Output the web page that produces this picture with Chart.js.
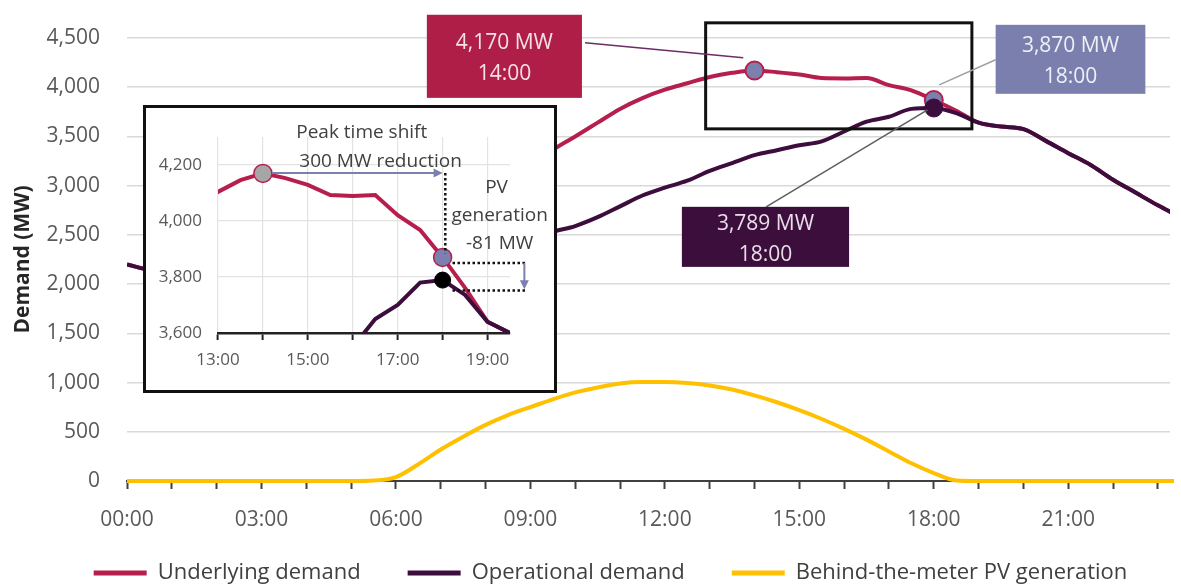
<!DOCTYPE html>
<html>
<head>
<meta charset="utf-8">
<script src="https://cdn.jsdelivr.net/npm/chart.js@4.4.1/dist/chart.umd.min.js"></script>
<style>
  html, body { margin: 0; padding: 0; background: #fff; }
  #wrap { position: relative; width: 1181px; height: 584px; overflow: hidden; }
  canvas { display: block; }
  #inset { position: absolute; left: 143px; top: 105px; width: 414px; height: 288px; box-sizing: border-box; border: 3px solid #111; background: #fff; }
</style>
</head>
<body>
<div id="wrap">
  <canvas id="main" width="1181" height="584"></canvas>
  <div id="inset"><canvas id="zoom" width="408" height="282"></canvas></div>
</div>
<script>
/* Demand chart */

const times = [
  '00:00', '00:30', '01:00', '01:30', '02:00', '02:30', '03:00', '03:30',
  '04:00', '04:30', '05:00', '05:30', '06:00', '06:30', '07:00', '07:30',
  '08:00', '08:30', '09:00', '09:30', '10:00', '10:30', '11:00', '11:30',
  '12:00', '12:30', '13:00', '13:30', '14:00', '14:30', '15:00', '15:30',
  '16:00', '16:30', '17:00', '17:30', '18:00', '18:30', '19:00', '19:30',
  '20:00', '20:30', '21:00', '21:30', '22:00', '22:30', '23:00', '23:30'
]

const underlying = [
  2200, 2140, 2070, 2010, 1960, 1920, 1890, 1880,
  1880, 1900, 1950, 2035, 2170, 2390, 2600, 2760,
  2910, 3050, 3190, 3364, 3500, 3640, 3780, 3890,
  3975, 4040, 4104, 4146, 4170, 4153, 4129, 4093,
  4089, 4093, 4021, 3968, 3870, 3761, 3640, 3600,
  3575, 3455, 3330, 3210, 3060, 2930, 2800, 2680
]

const operational = [
  2200, 2140, 2070, 2010, 1960, 1920, 1890, 1880,
  1880, 1900, 1950, 2030, 2130, 2220, 2280, 2310,
  2340, 2380, 2440, 2530, 2590, 2680, 2790, 2900,
  2980, 3050, 3150, 3230, 3310, 3360, 3410, 3450,
  3550, 3650, 3700, 3780, 3789, 3736, 3640, 3600,
  3575, 3455, 3330, 3210, 3060, 2930, 2800, 2680
]

const pvGeneration = [
  0, 0, 0, 0, 0, 0, 0, 0,
  0, 0, 0, 5, 40, 170, 320, 450,
  570, 670, 750, 830, 900, 950, 990, 1005,
  1005, 995, 970, 930, 870, 800, 720, 630,
  530, 420, 300, 180, 81, 5, 0, 0,
  0, 0, 0, 0, 0, 0, 0, 0
]

const peakTimes = ['14:00', '18:00']
const peakUnderlying = [4170, 3870]
const peakOperationalTime = ['18:00']
const peakOperational = [3789]

const Text = {
  Y_TITLE: 'Demand (MW)',
  UNDERLYING: 'Underlying demand',
  OPERATIONAL: 'Operational demand',
  PV: 'Behind-the-meter PV generation'
}

const Color = {
  RED: '#B61F4D',
  PURPLE: '#3C0D3D',
  GOLD: '#FFC000',
  SLATE: '#7B80AE',
  GRID: '#D9D9D9',
  AXIS: '#404040',
  TICK: '#595959'
}

const hours = t => { const [h, m] = t.split(':').map(Number); return h + m / 60 }
const points = (ts, vals) => ts.map((t, i) => ({ x: hours(t), y: vals[i] }))
const fmt = v => v.toLocaleString('en-US')

Chart.defaults.font.family = "'Open Sans', sans-serif"
Chart.defaults.color = Color.TICK

// callouts, anchored in hours / MW
const callouts = [
  { lines: ['4,170 MW', '14:00'], box: [6.69, 4736, 10.15, 3892], fill: '#AF1E46', text: '#F6E1E6',
    leader: [[10.22, 4451], [13.75, 4299]], leaderColor: '#6A2D66' },
  { lines: ['3,870 MW', '18:00'], box: [19.38, 4634, 22.72, 3933], fill: '#7A7FAD', text: '#EEF0F7',
    leader: [[19.38, 4278], [18.12, 4024]], leaderColor: '#A0A0A0' },
  { lines: ['3,789 MW', '18:00'], box: [12.38, 2785, 16.11, 2175], fill: '#3B0E3C', text: '#EADDEA',
    leader: [[14.26, 2785], [17.86, 3770]], leaderColor: '#606060' }
]
const zoomWindow = [12.91, 4654, 18.85, 3577]

const mainNotes = {
  id: 'mainNotes',
  afterLayout (chart) {
    // legend row sits a bit right of centre and low in the picture
    chart.legend.left += 20
    chart.legend.right += 20
    chart.legend.top = 515
    chart.legend.bottom = 584
  },
  afterDatasetsDraw (chart) {
    const { ctx, scales: { x, y } } = chart
    const px = (h, v) => [x.getPixelForValue(h), y.getPixelForValue(v)]
    ctx.save()

    const [a, b] = [px(zoomWindow[0], zoomWindow[1]), px(zoomWindow[2], zoomWindow[3])]
    ctx.strokeStyle = '#111'
    ctx.lineWidth = 3
    ctx.strokeRect(a[0], a[1], b[0] - a[0], b[1] - a[1])

    callouts.forEach(c => {
      const [p0, p1] = c.leader.map(p => px(p[0], p[1]))
      ctx.strokeStyle = c.leaderColor
      ctx.lineWidth = 1.6
      ctx.beginPath()
      ctx.moveTo(p0[0], p0[1])
      ctx.lineTo(p1[0], p1[1])
      ctx.stroke()

      const [t, u] = [px(c.box[0], c.box[1]), px(c.box[2], c.box[3])]
      ctx.fillStyle = c.fill
      ctx.fillRect(t[0], t[1], u[0] - t[0], u[1] - t[1])
      ctx.fillStyle = c.text
      ctx.font = "21px 'Open Sans'"
      ctx.textAlign = 'center'
      ctx.textBaseline = 'middle'
      const cx = (t[0] + u[0]) / 2
      const cy = (t[1] + u[1]) / 2
      ctx.fillText(c.lines[0], cx, cy - 13)
      ctx.fillText(c.lines[1], cx, cy + 18)
    })
    ctx.restore()
  }
}

new Chart(document.getElementById('main'), {
  type: 'line',
  data: {
    datasets: [
      {
        label: Text.UNDERLYING,
        data: points(times, underlying),
        borderColor: Color.RED,
        backgroundColor: Color.RED,
        borderWidth: 4,
        pointRadius: 0,
        cubicInterpolationMode: 'monotone',
        order: 3
      },
      {
        label: Text.OPERATIONAL,
        data: points(times, operational),
        borderColor: Color.PURPLE,
        backgroundColor: Color.PURPLE,
        borderWidth: 4,
        pointRadius: 0,
        cubicInterpolationMode: 'monotone',
        order: 2
      },
      {
        label: Text.PV,
        data: points(times, pvGeneration),
        borderColor: Color.GOLD,
        backgroundColor: Color.GOLD,
        borderWidth: 4,
        pointRadius: 0,
        cubicInterpolationMode: 'monotone',
        clip: 4,
        order: 4
      },
      {
        label: 'peak underlying',
        data: points(peakTimes, peakUnderlying),
        showLine: false,
        pointRadius: 9,
        pointBorderWidth: 2,
        pointBackgroundColor: Color.SLATE,
        pointBorderColor: Color.RED,
        order: 1
      },
      {
        label: 'peak operational',
        data: points(peakOperationalTime, peakOperational),
        showLine: false,
        pointRadius: 9,
        pointBorderWidth: 1,
        pointBackgroundColor: Color.PURPLE,
        pointBorderColor: Color.PURPLE,
        order: 0
      }
    ]
  },
  options: {
    responsive: false,
    animation: false,
    layout: { padding: { top: 38, right: 0, bottom: 0, left: 0 } },
    scales: {
      x: {
        type: 'linear',
        min: 0,
        max: 23.27,
        afterBuildTicks: s => { s.ticks = s.ticks.filter(t => Number.isInteger(t.value)) },
        afterFit: s => { s.height = 73; s.paddingLeft = 0; s.paddingRight = 0 },
        ticks: {
          stepSize: 1,
          autoSkip: false,
          includeBounds: false,
          maxRotation: 0,
          padding: 18,
          font: { size: 21 },
          color: Color.TICK,
          callback: v => v % 3 === 0 ? String(v).padStart(2, '0') + ':00' : ''
        },
        grid: { drawOnChartArea: false, drawTicks: true, tickLength: 8, tickColor: Color.AXIS, tickWidth: 2 },
        border: { display: true, color: Color.AXIS, width: 2 }
      },
      y: {
        min: 0,
        max: 4500,
        afterFit: s => { s.width = 127; s.paddingTop = 0; s.paddingBottom = 0 },
        ticks: { stepSize: 500, padding: 27, font: { size: 21 }, color: Color.TICK, callback: v => fmt(v) },
        grid: { color: Color.GRID, lineWidth: 1.5, drawTicks: false },
        border: { display: false },
        title: {
          display: true,
          text: Text.Y_TITLE,
          color: '#262626',
          font: { size: 21, weight: 'bold' },
          padding: { top: 10, bottom: 0 }
        }
      }
    },
    plugins: {
      tooltip: { enabled: false },
      legend: {
        position: 'bottom',
        maxHeight: 30,
        labels: {
          boxWidth: 53,
          boxHeight: 5,
          padding: 47,
          color: '#404040',
          font: { size: 22 },
          filter: item => item.datasetIndex < 3,
          sort: (a, b) => a.datasetIndex - b.datasetIndex,
          generateLabels: chart => Chart.defaults.plugins.legend.labels.generateLabels(chart)
            .map(l => ({ ...l, lineWidth: 0 }))
        }
      }
    }
  },
  plugins: [mainNotes]
})

/* Inset: 13:00 to 19:30 */

const insetNotes = [
  { text: 'Peak time shift', x: 16.2, y: 4314 },
  { text: '300 MW reduction', x: 16.62, y: 4211 },
  { text: 'PV', x: 19.2, y: 4121 },
  { text: 'generation', x: 19.27, y: 4021 },
  { text: '-81 MW', x: 19.27, y: 3921 }
]

const arrow = (ctx, x0, y0, x1, y1, color) => {
  const ang = Math.atan2(y1 - y0, x1 - x0)
  ctx.strokeStyle = color
  ctx.fillStyle = color
  ctx.lineWidth = 2
  ctx.beginPath()
  ctx.moveTo(x0, y0)
  ctx.lineTo(x1 - 7 * Math.cos(ang), y1 - 7 * Math.sin(ang))
  ctx.stroke()
  ctx.beginPath()
  ctx.moveTo(x1, y1)
  ctx.lineTo(x1 - 9 * Math.cos(ang) + 4.5 * Math.sin(ang), y1 - 9 * Math.sin(ang) - 4.5 * Math.cos(ang))
  ctx.lineTo(x1 - 9 * Math.cos(ang) - 4.5 * Math.sin(ang), y1 - 9 * Math.sin(ang) + 4.5 * Math.cos(ang))
  ctx.closePath()
  ctx.fill()
}

const zoomNotes = {
  id: 'zoomNotes',
  afterDatasetsDraw (chart) {
    const { ctx, scales: { x, y } } = chart
    const X = v => x.getPixelForValue(v)
    const Y = v => y.getPixelForValue(v)
    ctx.save()

    arrow(ctx, X(14.2), Y(4171), X(18), Y(4171), Color.SLATE)

    ctx.strokeStyle = '#111'
    ctx.lineWidth = 2.5
    ctx.setLineDash([2.5, 2.5])
    ctx.beginPath()
    ctx.moveTo(X(18.06), Y(4171))
    ctx.lineTo(X(18.06), Y(3885))
    ctx.moveTo(X(18.22), Y(3850))
    ctx.lineTo(X(19.87), Y(3850))
    ctx.moveTo(X(18.22), Y(3752))
    ctx.lineTo(X(19.87), Y(3752))
    ctx.stroke()
    ctx.setLineDash([])

    arrow(ctx, X(19.82), Y(3850), X(19.82), Y(3756), Color.SLATE)

    ctx.fillStyle = '#404040'
    ctx.font = "19px 'Open Sans'"
    ctx.textAlign = 'center'
    ctx.textBaseline = 'middle'
    insetNotes.forEach(n => ctx.fillText(n.text, X(n.x), Y(n.y)))
    ctx.restore()
  }
}

new Chart(document.getElementById('zoom'), {
  type: 'line',
  data: {
    datasets: [
      {
        label: 'peak operational',
        data: points(peakOperationalTime, peakOperational),
        showLine: false,
        pointRadius: 8,
        pointBackgroundColor: '#000',
        pointBorderColor: '#000',
        clip: 0
      },
      {
        label: 'peak underlying',
        data: points(peakTimes, peakUnderlying),
        showLine: false,
        pointRadius: 9,
        pointBorderWidth: 1.5,
        pointBackgroundColor: [ '#A6A6A6', Color.SLATE ],
        pointBorderColor: Color.RED,
        clip: 0
      },
      {
        label: Text.OPERATIONAL,
        data: points(times, operational),
        borderColor: Color.PURPLE,
        borderWidth: 4,
        pointRadius: 0,
        clip: 0
      },
      {
        label: Text.UNDERLYING,
        data: points(times, underlying),
        borderColor: Color.RED,
        borderWidth: 4,
        pointRadius: 0,
        clip: 0
      }
    ]
  },
  options: {
    responsive: false,
    animation: false,
    layout: { padding: { top: 29, right: 44, bottom: 0, left: 0 } },
    scales: {
      x: {
        type: 'linear',
        min: 13,
        max: 19.5,
        afterBuildTicks: s => { s.ticks = s.ticks.filter(t => Number.isInteger(t.value)) },
        afterFit: s => { s.height = 57; s.paddingLeft = 0; s.paddingRight = 0 },
        ticks: {
          stepSize: 1,
          autoSkip: false,
          includeBounds: false,
          maxRotation: 0,
          padding: 10,
          font: { size: 17 },
          color: Color.TICK,
          callback: v => v % 2 === 1 ? v + ':00' : ''
        },
        grid: { color: '#E3E3E3', lineWidth: 1.2, tickLength: 7, tickColor: '#222', tickWidth: 2 },
        border: { display: true, color: '#222', width: 2.5 }
      },
      y: {
        min: 3600,
        max: 4300,
        afterBuildTicks: s => { s.ticks = s.ticks.filter(t => t.value % 200 === 0) },
        afterFit: s => { s.width = 72; s.paddingTop = 0; s.paddingBottom = 0 },
        ticks: { stepSize: 200, padding: 16, includeBounds: false, font: { size: 17 }, color: Color.TICK, callback: v => fmt(v) },
        grid: { color: '#E3E3E3', lineWidth: 1.2, drawTicks: false },
        border: { display: false }
      }
    },
    plugins: {
      tooltip: { enabled: false },
      legend: { display: false }
    }
  },
  plugins: [zoomNotes]
})
</script>
</body>
</html>
